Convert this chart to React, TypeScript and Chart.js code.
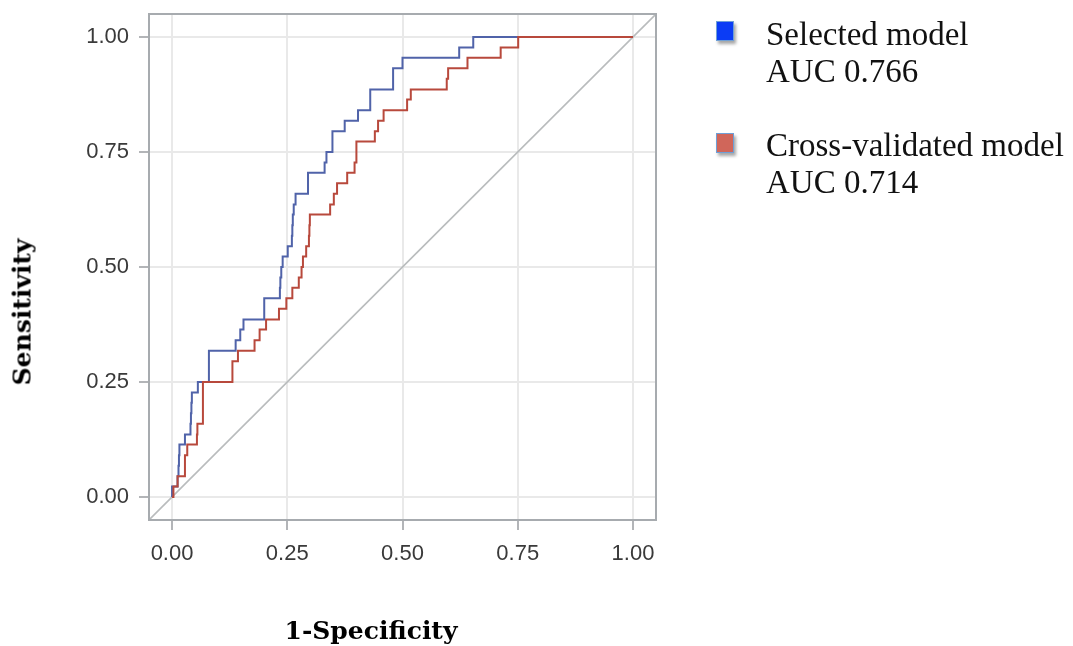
import React, { useEffect, useRef } from "react";
import { Chart, registerables } from "chart.js";

Chart.register(...registerables);

// ROC curve of the selected model (1-specificity, sensitivity)
const selectedFpr = [0, 0, 0.012, 0.014, 0.015, 0.016, 0.028, 0.04, 0.041, 0.042, 0.043, 0.056, 0.08, 0.138, 0.148, 0.155, 0.2, 0.234, 0.235, 0.237, 0.24, 0.251, 0.26, 0.261, 0.262, 0.264, 0.268, 0.295, 0.331, 0.335, 0.348, 0.3746, 0.4035, 0.43, 0.4796, 0.5, 0.623, 0.6535, 1];
const selectedTpr = [0, 0.023, 0.045, 0.068, 0.091, 0.114, 0.136, 0.159, 0.182, 0.205, 0.227, 0.25, 0.318, 0.341, 0.364, 0.386, 0.432, 0.455, 0.477, 0.5, 0.523, 0.545, 0.568, 0.591, 0.614, 0.636, 0.659, 0.705, 0.727, 0.75, 0.795, 0.818, 0.841, 0.886, 0.932, 0.955, 0.977, 1, 1];

// ROC curve of the cross-validated model
const cvFpr = [0, 0.003, 0.012, 0.028, 0.033, 0.054, 0.055, 0.067, 0.131, 0.143, 0.179, 0.19, 0.204, 0.232, 0.248, 0.261, 0.275, 0.281, 0.284, 0.291, 0.297, 0.298, 0.299, 0.343, 0.351, 0.358, 0.38, 0.396, 0.4, 0.44, 0.447, 0.459, 0.51, 0.518, 0.596, 0.599, 0.641, 0.713, 0.751, 1];
const cvTpr = [0, 0.023, 0.045, 0.091, 0.114, 0.136, 0.159, 0.25, 0.295, 0.318, 0.341, 0.364, 0.386, 0.409, 0.432, 0.455, 0.477, 0.5, 0.523, 0.545, 0.568, 0.591, 0.614, 0.636, 0.659, 0.682, 0.705, 0.727, 0.773, 0.795, 0.818, 0.841, 0.864, 0.886, 0.909, 0.932, 0.955, 0.977, 1, 1];

// Chance (reference) diagonal
const diagonalValues = [-0.05, 1.05];

const axisMin = -0.05;
const axisMax = 1.05;
const tickValues = [0, 0.25, 0.5, 0.75, 1];
const tickLabels = ["0.00", "0.25", "0.50", "0.75", "1.00"];

const seriesNames = ["Selected model", "Cross-validated model"];
const aucLabels = ["AUC 0.766", "AUC 0.714"];
const xTitle = "1-Specificity";
const yTitle = "Sensitivity";

const BLUE = "#5063a9";
const RED = "#b8493c";

function toPoints(xs: number[], ys: number[]) {
  return xs.map((x, i) => ({ x, y: ys[i] }));
}

const framePlugin = {
  id: "frame",
  afterDatasetsDraw(chart: any) {
    const { ctx, chartArea } = chart;
    ctx.save();
    ctx.strokeStyle = "#a7abaf";
    ctx.lineWidth = 2;
    ctx.strokeRect(chartArea.left, chartArea.top, chartArea.right - chartArea.left, chartArea.bottom - chartArea.top);
    ctx.restore();
  },
};

export default function App() {
  const canvasRef = useRef<HTMLCanvasElement | null>(null);

  useEffect(() => {
    if (!canvasRef.current) return;
    const tickFont = { family: "'Liberation Sans', Arial, sans-serif", size: 22 };
    const fixTicks = (scale: any) => {
      scale.ticks = tickValues.map((v) => ({ value: v }));
    };
    const chart = new Chart(canvasRef.current, {
      type: "line",
      data: {
        datasets: [
          {
            label: seriesNames[1],
            data: toPoints(cvFpr, cvTpr),
            borderColor: RED,
            borderWidth: 2,
            pointRadius: 0,
            stepped: true,
            fill: false,
          },
          {
            label: seriesNames[0],
            data: toPoints(selectedFpr, selectedTpr),
            borderColor: BLUE,
            borderWidth: 2,
            pointRadius: 0,
            stepped: true,
            fill: false,
          },
          {
            label: "Reference",
            data: toPoints(diagonalValues, diagonalValues),
            borderColor: "#b9bcbd",
            borderWidth: 1.6,
            pointRadius: 0,
            fill: false,
          },
        ],
      },
      options: {
        animation: false,
        responsive: false,
        events: [],
        layout: { padding: { left: 0, top: 14, right: 417, bottom: 0 } },
        plugins: { legend: { display: false }, tooltip: { enabled: false }, title: { display: false } },
        scales: {
          x: {
            type: "linear",
            min: axisMin,
            max: axisMax,
            afterBuildTicks: fixTicks,
            afterFit: (s: any) => {
              s.height = 126;
              s.paddingLeft = 0;
              s.paddingRight = 0;
            },
            border: { display: false },
            grid: { color: "#e9e9e9", lineWidth: 2, tickColor: "#9a9da0", tickLength: 10, tickWidth: 1.5 },
            ticks: {
              font: tickFont,
              color: "#3a3a3a",
              padding: 11,
              maxRotation: 0,
              autoSkip: false,
              callback: (v: any) => tickLabels[tickValues.indexOf(Number(v))] ?? "",
            },
          },
          y: {
            type: "linear",
            min: axisMin,
            max: axisMax,
            afterBuildTicks: fixTicks,
            afterFit: (s: any) => {
              s.width = 149;
              s.paddingTop = 0;
              s.paddingBottom = 0;
            },
            border: { display: false },
            grid: { color: "#e9e9e9", lineWidth: 2, tickColor: "#9a9da0", tickLength: 10, tickWidth: 1.5 },
            ticks: {
              font: tickFont,
              color: "#3a3a3a",
              padding: 10,
              autoSkip: false,
              callback: (v: any) => tickLabels[tickValues.indexOf(Number(v))] ?? "",
            },
          },
        },
      },
      plugins: [framePlugin],
    } as any);
    return () => chart.destroy();
  }, []);

  const legendFont: React.CSSProperties = {
    position: "absolute",
    left: 766,
    fontFamily: "'Liberation Serif', 'Times New Roman', serif",
    fontSize: 33,
    lineHeight: "36.5px",
    color: "#111",
    whiteSpace: "nowrap",
  };
  const swatch = (color: string, top: number): React.CSSProperties => ({
    position: "absolute",
    left: 716,
    top,
    width: 16,
    height: 18,
    background: color,
    border: "1px solid #6f9fd6",
    boxShadow: "2px 3px 3px rgba(0,0,0,0.35)",
  });
  const titleStyle: React.CSSProperties = {
    position: "absolute",
    fontFamily: "'DejaVu Serif', serif",
    fontWeight: "bold",
    fontSize: 25,
    whiteSpace: "nowrap",
    color: "#000",
  };

  return (
    <div style={{ position: "fixed", left: 0, top: 0, width: 1073, height: 646, background: "#fff", overflow: "hidden" }}>
      <canvas ref={canvasRef} width={1073} height={646} style={{ position: "absolute", left: 0, top: 0 }} />
      <div style={swatch("#0b3cf5", 21)} />
      <div style={swatch("#d0665a", 133)} />
      <div style={{ ...legendFont, top: 16 }}>
        <div>{seriesNames[0]}</div>
        <div>{aucLabels[0]}</div>
      </div>
      <div style={{ ...legendFont, top: 127 }}>
        <div>{seriesNames[1]}</div>
        <div>{aucLabels[1]}</div>
      </div>
      <div style={{ ...titleStyle, left: 22, top: 312, transform: "translate(-50%, -50%) rotate(-90deg)" }}>{yTitle}</div>
      <div style={{ ...titleStyle, left: 371, top: 630, transform: "translate(-50%, -50%)" }}>{xTitle}</div>
    </div>
  );
}
